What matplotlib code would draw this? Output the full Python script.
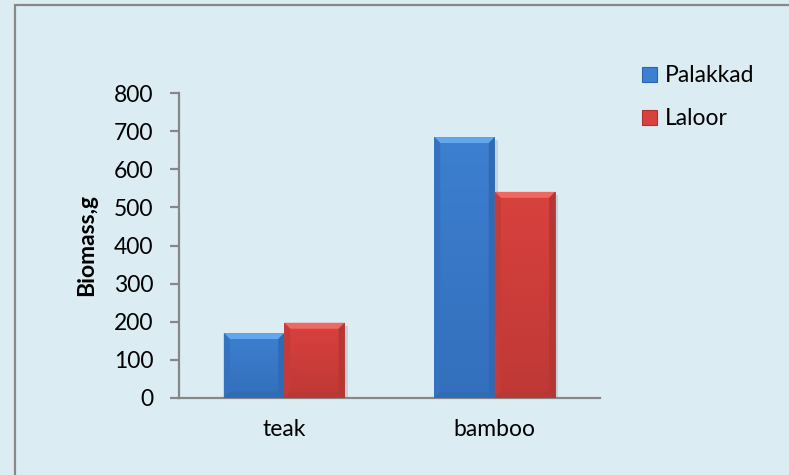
import numpy as np
import matplotlib
matplotlib.use("Agg")
import matplotlib.pyplot as plt
from matplotlib.patches import Rectangle, Polygon, Patch
from matplotlib.colors import to_rgb

categories = ["teak", "bamboo"]
series_names = ["Palakkad", "Laloor"]
palakkad = [170, 685]
laloor = [197, 541]
y_ticks = [0, 100, 200, 300, 400, 500, 600, 700, 800]

plt.rcParams["font.family"] = ["Lato", "DejaVu Sans"]

W, H = 789, 475
fig = plt.figure(figsize=(W / 100, H / 100), dpi=100)
bg = "#DBEDF3"
fig.patch.set_facecolor(bg)

# outer chart border (left and top edges visible)
fig.add_artist(Rectangle((15 / W, -0.2), 1.3, 1.2 - 5 / H,
                         transform=fig.transFigure, facecolor="none",
                         edgecolor="#888888", linewidth=1.6))

ax = fig.add_axes([179 / W, 1 - 397.7 / H, (600 - 179) / W, (397.7 - 93.3) / H])
ax.set_facecolor(bg)
ax.set_xlim(-0.5, 1.5)
ax.set_ylim(0, 800)

for s in ["top", "right"]:
    ax.spines[s].set_visible(False)
for s in ["left", "bottom"]:
    ax.spines[s].set_color("#878787")
    ax.spines[s].set_linewidth(1.6)

fs = 16.5
ax.set_yticks(y_ticks)
ax.set_yticklabels([str(v) for v in y_ticks])
ax.tick_params(axis="y", length=6.5, width=1.6, color="#878787",
               labelsize=fs, pad=12, labelcolor="#000000")
x = np.arange(len(categories))
ax.set_xticks(x)
ax.set_xticklabels(categories)
ax.tick_params(axis="x", length=0, labelsize=fs, pad=15, labelcolor="#000000")
ax.set_ylabel("Biomass,g", fontsize=fs, fontweight="bold", labelpad=12)

width = 0.287
colors = {"Palakkad": ("#3D7FD0", "#62A6EE", "#2C65AE"),
          "Laloor": ("#D8413E", "#EE6864", "#AE3330")}

px_x = ax.bbox.width / 2.0
px_y = ax.bbox.height / 800.0
bev = 6.0
dx = bev / px_x
dy = bev / px_y


def mix(c1, c2, f):
    a = np.array(to_rgb(c1))
    b = np.array(to_rgb(c2))
    return tuple(a * (1 - f) + b * f)


def draw_bar(x0, h, name):
    base, light, dark = colors[name]
    x1 = x0 + width
    # body gradient: slightly darker toward the base
    t = np.linspace(0, 1, 64)[:, None]
    c_top = np.array(to_rgb(base))
    c_bot = np.array(mix(base, dark, 0.6))
    grad = c_bot[None, None, :] * (1 - t[..., None]) + c_top[None, None, :] * t[..., None]
    grad = np.repeat(grad, 2, axis=1)
    ax.imshow(grad, extent=(x0, x1, 0, h), origin="lower", aspect="auto",
              zorder=3, interpolation="bilinear")
    # soft shadow
    ax.add_patch(Rectangle((x0 + 0.5 * dx, 0), width, h - 0.5 * dy,
                           facecolor="#8a9aa2", alpha=0.3, zorder=2,
                           linewidth=0))
    ddy = min(dy, h / 2)
    # top bevel
    ax.add_patch(Polygon([(x0, h), (x1, h), (x1 - dx, h - ddy), (x0 + dx, h - ddy)],
                         closed=True, facecolor=light, linewidth=0, zorder=4))
    # left bevel
    ax.add_patch(Polygon([(x0, h), (x0 + dx, h - ddy), (x0 + dx, ddy), (x0, 0)],
                         closed=True, facecolor=mix(base, dark, 0.45), linewidth=0,
                         zorder=4))
    # right bevel
    ax.add_patch(Polygon([(x1, h), (x1 - dx, h - ddy), (x1 - dx, ddy), (x1, 0)],
                         closed=True, facecolor=mix(base, dark, 0.8), linewidth=0,
                         zorder=4))
    # bottom bevel
    ax.add_patch(Polygon([(x0, 0), (x1, 0), (x1 - dx, ddy), (x0 + dx, ddy)],
                         closed=True, facecolor=mix(base, dark, 0.75), linewidth=0,
                         zorder=4))


for i in range(len(categories)):
    draw_bar(x[i] - width, palakkad[i], "Palakkad")
    draw_bar(x[i], laloor[i], "Laloor")

ax.set_xlim(-0.5, 1.5)
ax.set_ylim(0, 800)

handles = [Patch(facecolor=colors[n][0], edgecolor=colors[n][2], linewidth=0.8)
           for n in series_names]
fig.legend(handles, series_names, loc="upper left",
           bbox_to_anchor=(631 / W, 1 - 54 / H), frameon=False,
           fontsize=fs, handlelength=0.62, handleheight=0.62,
           handletextpad=0.35, labelspacing=0.95, borderpad=0.0)

fig.savefig("out.png", dpi=100, facecolor=bg)
